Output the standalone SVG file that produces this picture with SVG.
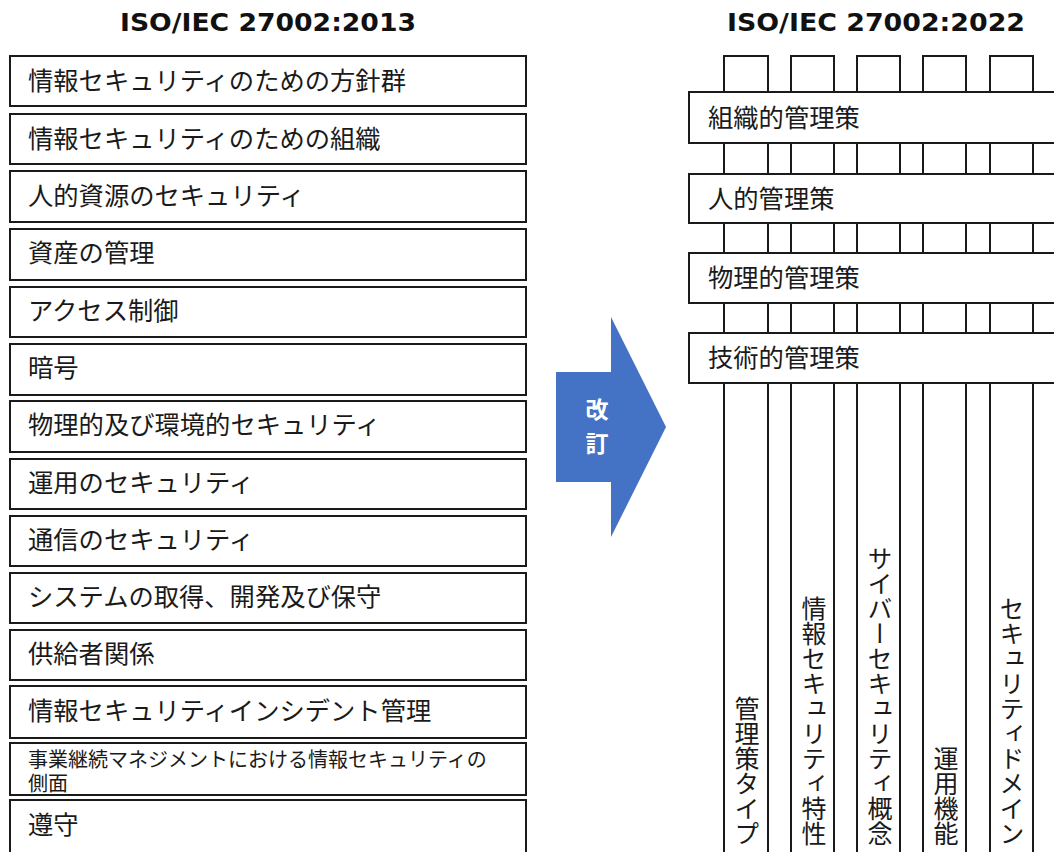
<svg xmlns="http://www.w3.org/2000/svg" width="1054" height="852" viewBox="0 0 1054 852">
<style>
.box{fill:#fff;stroke:#1a1a1a;stroke-width:2}
.t{font-family:"Noto Sans CJK JP","Noto Sans",sans-serif;font-size:25.3px;fill:#1a1a1a;dominant-baseline:central}
.s{font-size:20px}
.v{font-family:"Noto Sans CJK JP","Noto Sans",sans-serif;font-size:25px;fill:#1a1a1a;writing-mode:vertical-rl;text-anchor:end}
.h{font-family:"DejaVu Sans","Noto Sans CJK JP",sans-serif;font-weight:bold;font-size:24px;fill:#111;text-anchor:middle}
.w{font-family:"Noto Sans CJK JP",sans-serif;font-weight:bold;font-size:23px;fill:#fff;text-anchor:middle;dominant-baseline:central}
</style>
<rect width="1054" height="852" fill="#fff"/>
<text class="h" x="268" y="31" textLength="296" lengthAdjust="spacingAndGlyphs">ISO/IEC 27002:2013</text>
<text class="h" x="876" y="31" textLength="298" lengthAdjust="spacingAndGlyphs">ISO/IEC 27002:2022</text>

<g id="old-1"><rect class="box" x="10" y="56" width="516" height="50"/><text class="t" x="28" y="79">情報セキュリティのための方針群</text></g>
<g id="old-2"><rect class="box" x="10" y="114" width="516" height="50"/><text class="t" x="28" y="137">情報セキュリティのための組織</text></g>
<g id="old-3"><rect class="box" x="10" y="171" width="516" height="51"/><text class="t" x="28" y="194">人的資源のセキュリティ</text></g>
<g id="old-4"><rect class="box" x="10" y="229" width="516" height="51"/><text class="t" x="28" y="251">資産の管理</text></g>
<g id="old-5"><rect class="box" x="10" y="287" width="516" height="50"/><text class="t" x="28" y="309">アクセス制御</text></g>
<g id="old-6"><rect class="box" x="10" y="344" width="516" height="51"/><text class="t" x="28" y="366">暗号</text></g>
<g id="old-7"><rect class="box" x="10" y="401" width="516" height="51"/><text class="t" x="28" y="423">物理的及び環境的セキュリティ</text></g>
<g id="old-8"><rect class="box" x="10" y="459" width="516" height="50"/><text class="t" x="28" y="481">運用のセキュリティ</text></g>
<g id="old-9"><rect class="box" x="10" y="516" width="516" height="50"/><text class="t" x="28" y="538">通信のセキュリティ</text></g>
<g id="old-10"><rect class="box" x="10" y="573" width="516" height="50"/><text class="t" x="28" y="595">システムの取得、開発及び保守</text></g>
<g id="old-11"><rect class="box" x="10" y="630" width="516" height="50"/><text class="t" x="28" y="652">供給者関係</text></g>
<g id="old-12"><rect class="box" x="10" y="686" width="516" height="52"/><text class="t" x="28" y="709">情報セキュリティインシデント管理</text></g>
<g id="old-13"><rect class="box" x="10" y="743" width="516" height="52"/><text class="t s" x="28" y="758">事業継続マネジメントにおける情報セキュリティの<tspan x="28" dy="24">側面</tspan></text></g>
<g id="old-14"><rect class="box" x="10" y="800" width="516" height="60"/><text class="t" x="28" y="823">遵守</text></g>

<g id="arrow">
<polygon points="556,372 611,372 611,317 666,427 611,537 611,482 556,482" fill="#4472C4"/>
<text class="w" x="597" y="408">改</text>
<text class="w" x="597" y="442">訂</text>
</g>

<g id="col-1"><rect class="box" x="724" y="56" width="44" height="810"/><text class="v" x="747" y="846">管理策タイプ</text></g>
<g id="col-2"><rect class="box" x="791" y="56" width="43" height="810"/><text class="v" x="814" y="846">情報セキュリティ特性</text></g>
<g id="col-3"><rect class="box" x="857" y="56" width="43" height="810"/><text class="v" x="880" y="846">サイバーセキュリティ概念</text></g>
<g id="col-4"><rect class="box" x="923" y="56" width="43" height="810"/><text class="v" x="946" y="846">運用機能</text></g>
<g id="col-5"><rect class="box" x="990" y="56" width="43" height="810"/><text class="v" x="1012" y="846">セキュリティドメイン</text></g>

<g id="bar-1"><rect class="box" x="689" y="92" width="380" height="51"/><text class="t" x="708" y="116">組織的管理策</text></g>
<g id="bar-2"><rect class="box" x="689" y="174" width="380" height="49"/><text class="t" x="708" y="197">人的管理策</text></g>
<g id="bar-3"><rect class="box" x="689" y="253" width="380" height="50"/><text class="t" x="708" y="276">物理的管理策</text></g>
<g id="bar-4"><rect class="box" x="689" y="333" width="380" height="50"/><text class="t" x="708" y="356">技術的管理策</text></g>
<g id="connectors"></g>
</svg>
